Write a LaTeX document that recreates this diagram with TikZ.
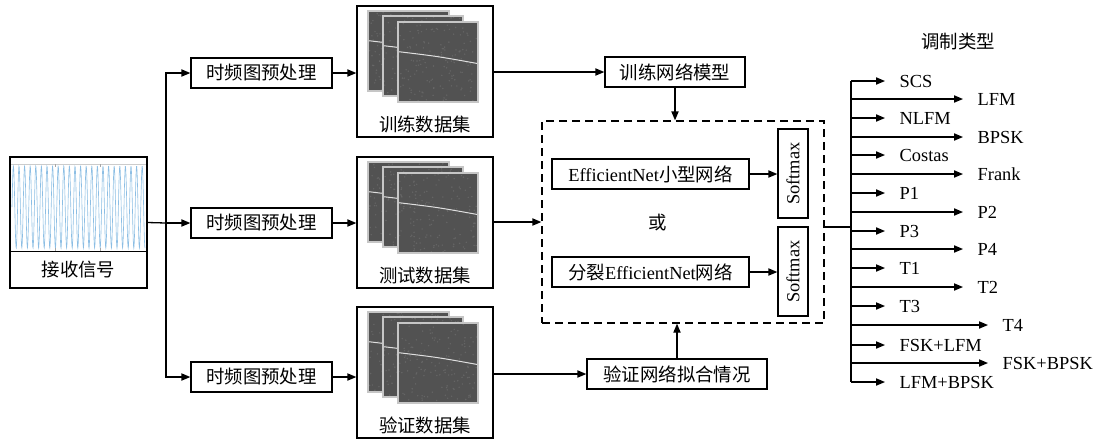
\documentclass[tikz,border=0pt]{standalone}
\usepackage{fontspec}
\usepackage{graphicx}
\setmainfont{Liberation Serif}
\newfontfamily\cjk{Noto Sans CJK SC}
\usetikzlibrary{arrows.meta}
\definecolor{sigblue}{RGB}{140,190,228}
\definecolor{imgray}{RGB}{82,82,82}
\definecolor{imdot}{RGB}{118,118,118}
\newcommand\specimg[4]{%
  \fill[imgray] ({#1},{#2}) rectangle ({#3},{#4});
  \foreach \k in {1,...,140}{\fill[imdot,opacity=0.55] ({(#1)+1+rnd*((#3)-(#1)-2)},{(#2)+1+rnd*((#4)-(#2)-2)}) circle (0.4pt);}
  \draw[gray!25,line width=0.5pt] ({#1},{(#2)+0.37*((#4)-(#2))}) .. controls ({(#1)+0.5*((#3)-(#1))},{(#2)+0.43*((#4)-(#2))}) .. ({#3},{(#2)+0.52*((#4)-(#2))});
  \draw[gray!45,line width=0.6pt] ({#1},{#2}) rectangle ({#3},{#4});
}
\newcommand\dataset[3]{%
  \node[box,minimum width=68pt,minimum height=65.5pt] (#1) at (425,{#2+65.5}) {};
  \specimg{368}{#2+5}{449}{#2+85}
  \specimg{383}{#2+10}{463}{#2+90}
  \specimg{398}{#2+16}{478}{#2+96}
  \node[txt] (#1t) at (425,{#2+118}) {\cjk #3};
}
\begin{document}
\begin{tikzpicture}[x=0.5pt,y=-0.5pt,line width=0.65pt,
  box/.style={draw,line width=0.65pt,inner sep=0pt,font=\fontsize{9.2}{11}\selectfont},
  txt/.style={inner sep=0pt,font=\fontsize{9.2}{11}\selectfont},
  arr/.style={-{Triangle[length=4.5pt,width=3.6pt]}},
  lbl/.style={inner sep=0pt,anchor=west,text height=0.66em,text depth=0pt,font=\fontsize{9.2}{11}\selectfont},
]
\useasboundingbox (0,0) rectangle (1097,441);
\pgfmathsetseed{7}

% received signal
\node[box,minimum width=68.5pt,minimum height=65.5pt] (sig) at (78.5,222.5) {};
\draw[gray!40,line width=0.4pt] (11,164) -- (146,164);
\draw[sigblue,line width=0.3pt] plot[domain=12:145,samples=500] (\x,{207-41*sin(64.2857*(\x-12))});
\draw[gray!70,line width=0.3pt] (55,248) -- (55,251) (100,248) -- (100,251) (55,164) -- (55,167) (100,164) -- (100,167);
\draw[line width=0.5pt] (10,251) -- (147,251);
\node[txt] (sigt) at (78.5,270) {\cjk 接收信号};

% preprocessing
\node[box,minimum width=70.5pt,minimum height=15pt] (pre1) at (261.5,73) {\cjk 时频图预处理};
\node[box,minimum width=70.5pt,minimum height=15pt] (pre2) at (261.5,223) {\cjk 时频图预处理};
\node[box,minimum width=70.5pt,minimum height=15pt] (pre3) at (261.5,377) {\cjk 时频图预处理};

% datasets
\dataset{data1}{6}{训练数据集}
\dataset{data2}{157}{测试数据集}
\dataset{data3}{307}{验证数据集}

% training / verification
\node[box,minimum width=70pt,minimum height=15pt] (train) at (675,72) {\cjk 训练网络模型};
\node[box,minimum width=90pt,minimum height=15pt] (verify) at (677,374) {\cjk 验证网络拟合情况};

% dashed model box
\node[draw,dash pattern=on 4pt off 2.5pt,minimum width=141pt,minimum height=101pt,inner sep=0pt] (dash) at (683,222) {};
\node[box,minimum width=98.5pt,minimum height=15pt] (eff1) at (650.5,174) {EfficientNet{\cjk 小型网络}};
\node[box,minimum width=98.5pt,minimum height=15pt] (eff2) at (650.5,272) {{\cjk 分裂}EfficientNet{\cjk 网络}};
\node[box,minimum width=15pt,minimum height=44.5pt] (sm1) at (793,173.5) {\rotatebox{90}{Softmax}};
\node[box,minimum width=15pt,minimum height=44.5pt] (sm2) at (793,271.5) {\rotatebox{90}{Softmax}};
\node[txt] (or) at (658,223) {\cjk 或};

% connectors
\coordinate (split) at (166,223);
\coordinate (d2out) at (493,222);
\draw (sig.east) -- (split);
\draw[arr] (split) |- (pre1.west);
\draw[arr] (split) -- (pre2.west);
\draw[arr] (split) |- (pre3.west);
\draw[arr] (pre1.east) -- (pre1.east -| data1.west);
\draw[arr] (pre2.east) -- (pre2.east -| data2.west);
\draw[arr] (pre3.east) -- (pre3.east -| data3.west);
\draw[arr] (data1.east |- train.west) -- (train.west);
\draw[arr] (data2.east |- d2out) -- (d2out -| dash.west);
\draw[arr] (data3.east |- verify.west) -- (verify.west);
\draw[arr] (train.south) -- (train.south |- dash.north);
\draw[arr] (verify.north) -- (verify.north |- dash.south);
\draw[arr] (eff1.east) -- (eff1.east -| sm1.west);
\draw[arr] (eff2.east) -- (eff2.east -| sm2.west);

% modulation types
\node[txt] (title) at (958,42) {\cjk 调制类型};
\coordinate (busmid) at (851,227);
\coordinate (bustop) at (851,81);
\coordinate (busbot) at (851,382);
\draw (dash.east |- busmid) -- (busmid);
\draw (bustop) -- (busbot);
\foreach \i/\y/\lx/\t in {1/81/899/SCS,2/99/977/LFM,3/118/899/NLFM,4/137/977/BPSK,5/155/899/Costas,6/174/977/Frank,7/193/899/P1,8/212/977/P2,9/231/899/P3,10/249/977/P4,11/268/899/T1,12/287/977/T2,13/306/899/T3,14/325/1002/T4,15/345/899/FSK+LFM,16/363/1002/FSK+BPSK,17/382/899/LFM+BPSK}{
  \node[lbl] (m\i) at (\lx,\y) {\t};
  \draw[arr] (bustop |- m\i.west) -- ([xshift=-7pt]m\i.west);
}
\end{tikzpicture}
\end{document}
